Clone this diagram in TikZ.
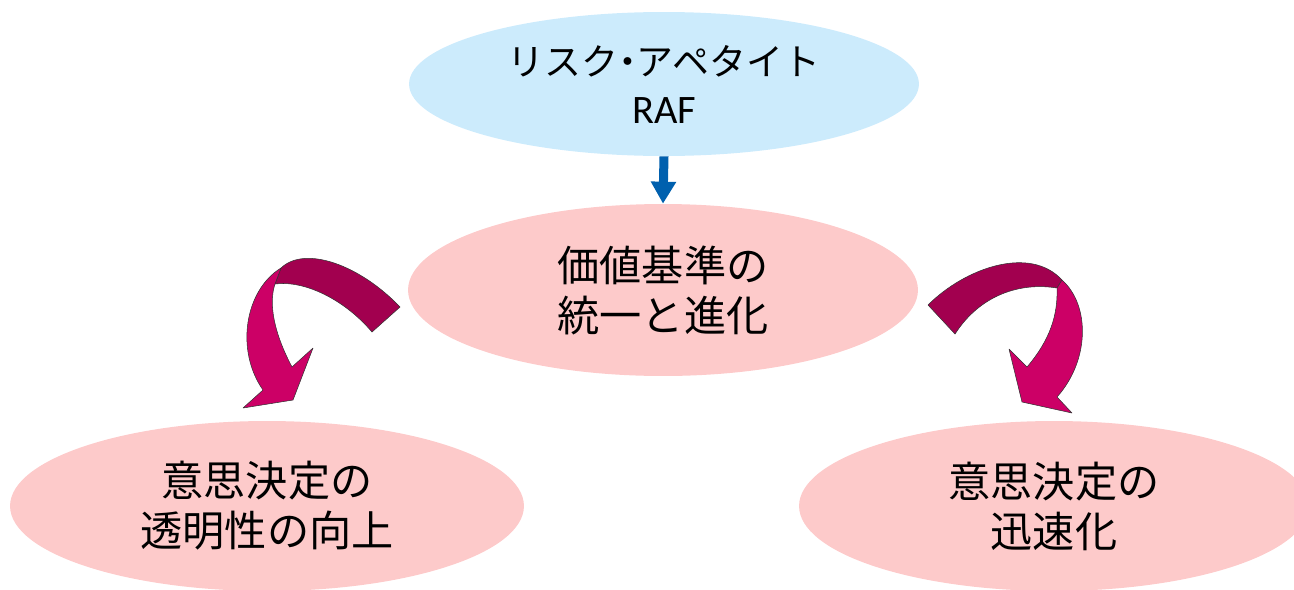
\documentclass[tikz,border=0pt]{standalone}
\usepackage{fontspec}
\usetikzlibrary{shapes.geometric,arrows.meta}
\newfontfamily\jp{Noto Sans CJK JP}
\newfontfamily\lat{Carlito}
\definecolor{lblue}{HTML}{CCEBFC}
\definecolor{lpink}{HTML}{FDCACA}
\definecolor{darrow}{HTML}{0060AE}
\definecolor{mdark}{HTML}{A2004F}
\definecolor{mpink}{HTML}{CC0066}
\begin{document}
\begin{tikzpicture}[x=0.02cm,y=-0.02cm,
  oval/.style={ellipse, inner sep=0pt, align=center, font=\jp\fontsize{24pt}{28.5pt}\selectfont},
  ribbon/.style={draw=black!80, line width=0.3pt, line join=round}]
\useasboundingbox (0,0) rectangle (1294,589);
\clip (0,0) rectangle (1294,589);
\node[oval, fill=lblue, minimum width=10.2cm, minimum height=2.88cm,
      font=\jp\fontsize{21pt}{27.3pt}\selectfont] (raf) at (664,84)
  {リスク\kern-0.25em・\kern-0.25em アペタイト\\{\lat\fontsize{23pt}{27.3pt}\selectfont RAF}};
\node[oval, fill=lpink, minimum width=10.2cm, minimum height=3.44cm] (mid) at (663,290)
  {価値基準の\\統一と進化};
\node[oval, fill=lpink, minimum width=10.28cm, minimum height=3.4cm] (bl) at (267,506)
  {意思決定の\\透明性の向上};
\node[oval, fill=lpink, minimum width=10.2cm, minimum height=3.4cm] (br) at (1054,506)
  {意思決定の\\迅速化};
\draw[darrow, line width=0.18cm, -{Triangle[width=0.48cm,length=0.44cm]}]
  (raf.south) -- (mid.north);
% left ribbon arrow
\filldraw[ribbon, fill=mdark] (281,268) .. controls (305,245) and (360,265) .. (400,307)
  -- (372,332) .. controls (345,300) and (305,280) .. (275,284) -- cycle;
\filldraw[ribbon, fill=mpink] (281,268) .. controls (245,290) and (235,350) .. (263,390)
  -- (243,408) -- (293,400) -- (313,348) -- (292,367)
  .. controls (275,335) and (268,305) .. (275,284) -- cycle;
% right ribbon arrow
\filldraw[ribbon, fill=mdark] (928,305) .. controls (965,268) and (1030,245) .. (1062,280)
  -- (1057,288) .. controls (1020,282) and (980,295) .. (955,334) -- cycle;
\filldraw[ribbon, fill=mpink] (1062,280) .. controls (1090,305) and (1090,360) .. (1057,397)
  -- (1072,413) -- (1022,402) -- (1009,349) -- (1027,367)
  .. controls (1050,340) and (1058,315) .. (1057,288) -- cycle;
\end{tikzpicture}
\end{document}
